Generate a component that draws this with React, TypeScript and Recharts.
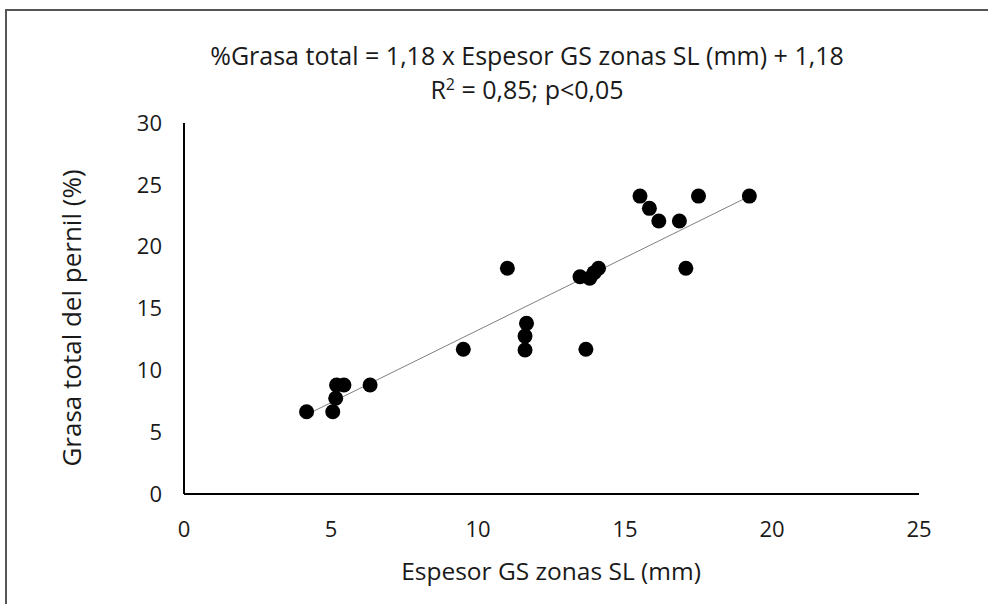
import React from "react";
import { ScatterChart, Scatter, XAxis, YAxis, Label } from "recharts";

const espesor = [4.17, 5.06, 5.16, 5.19, 5.44, 6.33, 9.5, 11.0, 11.6, 11.6, 11.65, 13.67, 13.47, 13.8, 13.95, 14.1, 17.07, 15.51, 15.83, 16.15, 16.85, 17.5, 19.23];
const grasa = [6.65, 6.65, 7.74, 8.81, 8.81, 8.81, 11.7, 18.25, 11.64, 12.77, 13.8, 11.7, 17.57, 17.45, 17.9, 18.25, 18.25, 24.09, 23.1, 22.07, 22.07, 24.09, 24.09];
const trendX = [4.2, 19.25];
const trendY = [6.45, 24.1];
const xTicks = [0, 5, 10, 15, 20, 25];
const yTicks = [0, 5, 10, 15, 20, 25, 30];

const points = espesor.map((x, i) => ({ x, y: grasa[i] }));
const trend = trendX.map((x, i) => ({ x, y: trendY[i] }));

const FONT = "'Open Sans', 'Noto Sans', sans-serif";
const TXT = "#1a1a1a";

const Dot = (props: any) => <circle cx={props.cx} cy={props.cy} r={7.5} fill="#000" />;
const NoDot = () => null;

export default function App() {
  return (
    <div style={{ position: "fixed", left: 0, top: 0, width: 988, height: 604, background: "#fff", fontFamily: FONT }}>
      <div style={{ position: "absolute", left: 5, top: 9, width: 990, height: 600, borderLeft: "2px solid #555", borderTop: "2px solid #555" }} />
      <div style={{ position: "absolute", left: 0, width: 1054, top: 38, textAlign: "center", fontSize: 25, color: TXT, lineHeight: "34px" }}>
        <div>%Grasa total = 1,18 x Espesor GS zonas SL (mm) + 1,18</div>
        <div>R<sup style={{ fontSize: 16, lineHeight: 0 }}>2</sup> = 0,85; p&lt;0,05</div>
      </div>
      <ScatterChart width={988} height={604} margin={{ top: 123, right: 69, bottom: 0, left: 0 }}>
        <XAxis
          type="number"
          dataKey="x"
          domain={[0, 25]}
          ticks={xTicks}
          axisLine={{ stroke: "#000", strokeWidth: 2 }}
          tickLine={false}
          tickSize={0}
          tickMargin={27}
          height={110}
          tick={{ fontSize: 22, fill: TXT, fontFamily: FONT }}
        >
          <Label
            content={() => (
              <text x={551} y={580} textAnchor="middle" fontSize={24.5} fill={TXT} fontFamily={FONT}>
                Espesor GS zonas SL (mm)
              </text>
            )}
          />
        </XAxis>
        <YAxis
          type="number"
          dataKey="y"
          domain={[0, 30]}
          ticks={yTicks}
          axisLine={{ stroke: "#000", strokeWidth: 2 }}
          tickLine={false}
          tickSize={0}
          tickMargin={22}
          width={184}
          tick={{ fontSize: 22, fill: TXT, fontFamily: FONT }}
        >
          <Label
            content={() => (
              <text x={81} y={318} transform="rotate(-90 81 318)" textAnchor="middle" fontSize={26} fill={TXT} fontFamily={FONT}>
                Grasa total del pernil (%)
              </text>
            )}
          />
        </YAxis>
        <Scatter data={trend} line={{ stroke: "#808080", strokeWidth: 1 }} shape={NoDot} isAnimationActive={false} />
        <Scatter data={points} shape={Dot} isAnimationActive={false} />
      </ScatterChart>
    </div>
  );
}
